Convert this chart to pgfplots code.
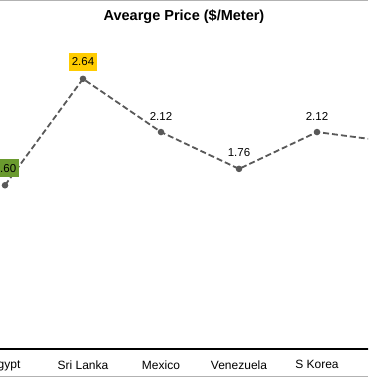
\documentclass[border=0pt]{standalone}
\usepackage{pgfplots}
\pgfplotsset{compat=1.18}
\usepackage{fontspec}
\setmainfont{Liberation Sans}
\definecolor{lineg}{HTML}{595959}
\definecolor{ybox}{HTML}{FFCC00}
\definecolor{gbox}{HTML}{6A9A2E}
\begin{document}
\begin{tikzpicture}[x=1pt,y=1pt]
\useasboundingbox (0,0) rectangle (368,378);
\clip (0,0) rectangle (368,378);
\fill[white] (0,0) rectangle (368,378);
\draw[gray!60, line width=1pt] (0,377.5) -- (368,377.5);
\draw[gray!60, line width=1.2pt] (0,1.5) -- (368,1.5);
\node[font=\bfseries\fontsize{14.5}{16}\selectfont] at (184,361) {Avearge Price (\$/Meter)};
\begin{axis}[at={(-34pt,29pt)}, anchor=south west, scale only axis,
  width=468pt, height=307pt,
  xmin=-0.5, xmax=5.5, ymin=0, ymax=3,
  axis x line=bottom, axis y line=none,
  x axis line style={black, line width=1.6pt, -},
  xtick={0,1,2,3,4,5}, xticklabels={Egypt,Sri Lanka,Mexico,Venezuela,S Korea,},
  major tick length=0pt, ytick=\empty,
  xticklabel style={font=\fontsize{12}{14}\selectfont, yshift=-8pt},
  clip=false]
\addplot[color=lineg, line width=1.8pt, dash pattern=on 6pt off 3pt,
  mark=*, mark size=2.3pt, mark options={solid, fill=lineg}]
  coordinates {(0,1.60) (1,2.64) (2,2.12) (3,1.76) (4,2.12) (5,2.02)};
\addplot[draw=none, mark=none, nodes near coords, point meta=explicit symbolic,
  every node near coord/.style={anchor=center, yshift=16pt, font=\fontsize{11.5}{13}\selectfont, text=black}]
  coordinates {(2,2.12)[2.12] (3,1.76)[1.76] (4,2.12)[2.12]};
\addplot[draw=none, mark=none, nodes near coords, point meta=explicit symbolic,
  every node near coord/.style={anchor=center, yshift=17pt, font=\fontsize{11.5}{13}\selectfont, text=black, fill=ybox, inner xsep=3pt, inner ysep=5pt}]
  coordinates {(1,2.64)[2.64]};
\addplot[draw=none, mark=none, nodes near coords, point meta=explicit symbolic,
  every node near coord/.style={anchor=center, yshift=17pt, font=\fontsize{11.5}{13}\selectfont, text=black, fill=gbox, inner xsep=3pt, inner ysep=5pt}]
  coordinates {(0,1.60)[1.60]};
\end{axis}
\end{tikzpicture}
\end{document}
